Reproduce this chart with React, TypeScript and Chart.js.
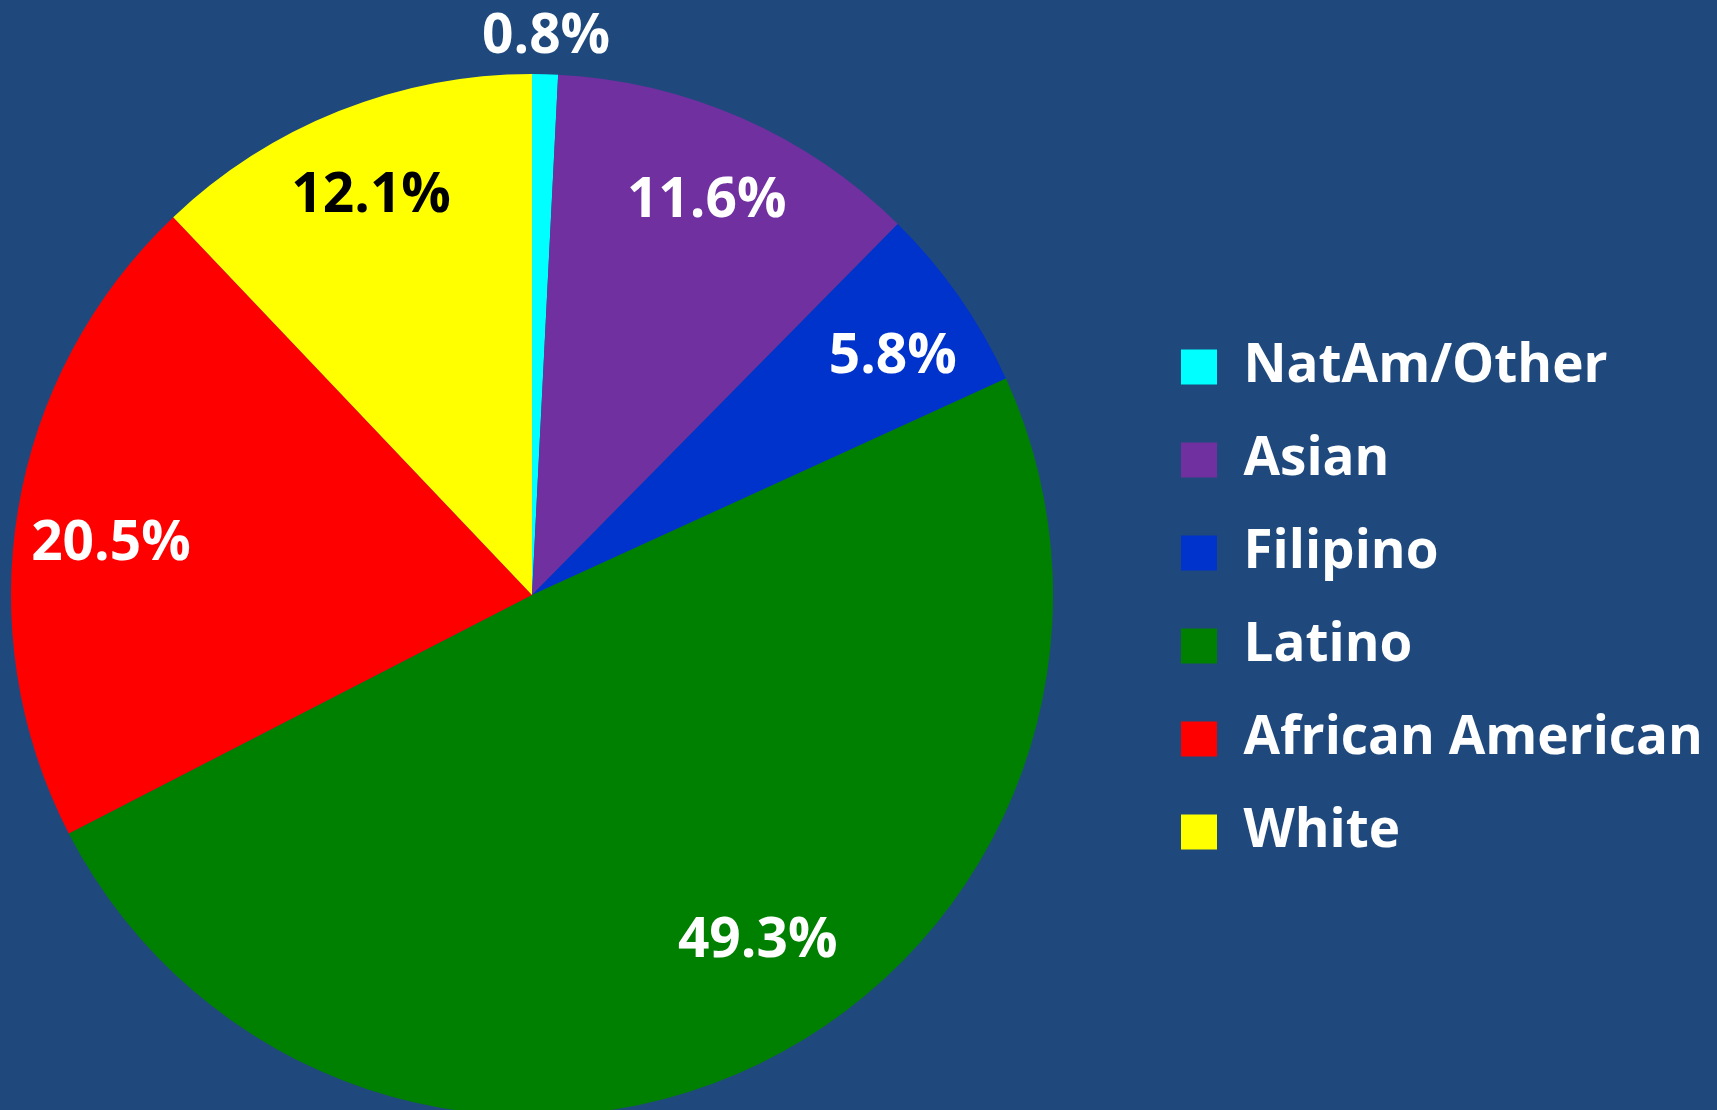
import React, { useEffect, useRef } from 'react';
import { Chart, registerables } from 'chart.js';

Chart.register(...registerables);

// ---- data ----
const categories = ['NatAm/Other', 'Asian', 'Filipino', 'Latino', 'African American', 'White'];
const percentages = [0.8, 11.6, 5.8, 49.3, 20.5, 12.1];

// ---- style ----
const sliceColors = ['#00FFFF', '#7030A0', '#0033CC', '#008000', '#FF0000', '#FFFF00'];
const labelColors = ['#FFFFFF', '#FFFFFF', '#FFFFFF', '#FFFFFF', '#FFFFFF', '#000000'];
const labelRadius = [1.078, 0.833, 0.833, 0.787, 0.815, 0.833];
const labelAngleShiftDeg = [0, 0, 1.2, -7.5, -2.2, 0];
const BG = '#1F497D';
const FONT_FAMILY = "'Open Sans', sans-serif";
const LABEL_FONT = 55;
const LEGEND_FONT = 53;
const LEGEND_BOX_W = 36;
const LEGEND_BOX_H = 35;
const LEGEND_PAD = 40;

const CANVAS_W = 1810;
const CANVAS_H = 1130;
const CANVAS_LEFT = -84;
const LEGEND_LEFT = 1225; // canvas coordinates
const PIE_CENTER_X = 616; // canvas coordinates (532 on the page)

const sliceLabelPlugin = {
  id: 'sliceLabels',
  afterDatasetsDraw(chart: any) {
    const ctx = chart.ctx as CanvasRenderingContext2D;
    const meta = chart.getDatasetMeta(0);
    meta.data.forEach((arc: any, i: number) => {
      const p = arc.getProps(['x', 'y', 'startAngle', 'endAngle', 'outerRadius'], true);
      const mid = (p.startAngle + p.endAngle) / 2 + (labelAngleShiftDeg[i] * Math.PI) / 180;
      const r = p.outerRadius * labelRadius[i];
      const lx = p.x + Math.cos(mid) * r;
      const ly = p.y + Math.sin(mid) * r;
      ctx.save();
      ctx.font = `bold ${LABEL_FONT}px ${FONT_FAMILY}`;
      ctx.fillStyle = labelColors[i];
      ctx.textAlign = 'center';
      ctx.textBaseline = 'alphabetic';
      ctx.fillText(`${percentages[i].toFixed(1)}%`, lx, ly + 0.357 * LABEL_FONT);
      ctx.restore();
    });
  },
};

function legendNaturalWidth(): number {
  const c = document.createElement('canvas');
  const ctx = c.getContext('2d') as CanvasRenderingContext2D;
  ctx.font = `bold ${LEGEND_FONT}px ${FONT_FAMILY}`;
  let maxItem = 0;
  categories.forEach((t) => {
    const w = LEGEND_BOX_W + LEGEND_FONT / 2 + ctx.measureText(t).width;
    if (w > maxItem) maxItem = w;
  });
  return LEGEND_PAD + maxItem + 10;
}

export default function App() {
  const ref = useRef<HTMLCanvasElement>(null);

  useEffect(() => {
    document.body.style.margin = '0';
    const legendW = legendNaturalWidth();
    const padRight = Math.max(0, CANVAS_W - LEGEND_LEFT - legendW);
    const padLeft = Math.max(0, 2 * PIE_CENTER_X - LEGEND_LEFT);
    const chart = new Chart(ref.current as HTMLCanvasElement, {
      type: 'pie',
      data: {
        labels: categories,
        datasets: [
          {
            data: percentages,
            backgroundColor: sliceColors,
            borderWidth: 0,
          },
        ],
      },
      options: {
        responsive: false,
        animation: false,
        devicePixelRatio: 1,
        events: [],
        layout: {
          padding: { left: padLeft, top: 74, right: padRight, bottom: 14 },
        },
        plugins: {
          tooltip: { enabled: false },
          legend: {
            display: true,
            position: 'right',
            align: 'center',
            title: {
              display: true,
              text: '',
              font: { size: 2, lineHeight: 1 },
              padding: { top: 3.5, bottom: 3.5 },
            },
            labels: {
              boxWidth: LEGEND_BOX_W,
              boxHeight: LEGEND_BOX_H,
              padding: LEGEND_PAD,
              color: '#FFFFFF',
              font: { family: FONT_FAMILY, size: LEGEND_FONT, weight: 'bold' },
            },
          },
        },
      },
      plugins: [sliceLabelPlugin],
    } as any);
    return () => chart.destroy();
  }, []);

  return (
    <div
      style={{
        position: 'fixed',
        left: 0,
        top: 0,
        width: 1717,
        height: 1110,
        overflow: 'hidden',
        background: BG,
      }}
    >
      <canvas
        ref={ref}
        width={CANVAS_W}
        height={CANVAS_H}
        style={{ position: 'absolute', left: CANVAS_LEFT, top: 0, width: CANVAS_W, height: CANVAS_H }}
      />
    </div>
  );
}
